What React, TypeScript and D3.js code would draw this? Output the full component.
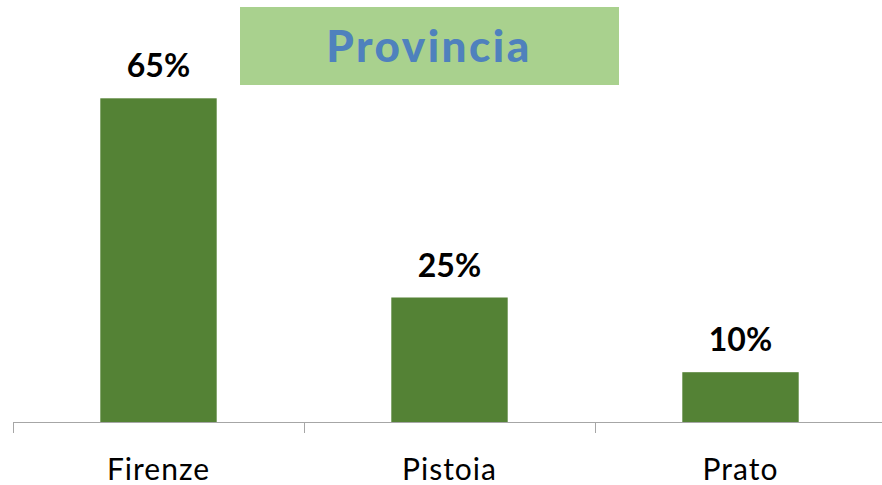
import React, { useRef, useEffect } from 'react';
import { select, scaleBand, scaleLinear } from 'd3';

const categories = ['Firenze', 'Pistoia', 'Prato'];
const values = [65, 25, 10];
const valueLabels = ['65%', '25%', '10%'];
const title = 'Provincia';

const W = 882;
const H = 485;

export default function App() {
  const svgRef = useRef<SVGSVGElement>(null);

  useEffect(() => {
    const svg = select(svgRef.current);
    svg.selectAll('*').remove();

    const baseY = 422;
    const x = scaleBand<string>()
      .domain(categories)
      .range([13, 886])
      .paddingInner(0.6)
      .paddingOuter(0.3);
    const y = scaleLinear().domain([0, 100]).range([baseY, baseY - 498]);

    svg.append('rect').attr('width', W).attr('height', H).attr('fill', '#fff');

    // title box
    svg.append('rect')
      .attr('x', 240).attr('y', 7).attr('width', 379).attr('height', 78)
      .attr('fill', '#a9d18e');
    svg.append('text')
      .attr('x', 429).attr('y', 62)
      .attr('text-anchor', 'middle')
      .attr('font-family', 'Lato, sans-serif')
      .attr('font-weight', 900)
      .attr('font-size', 44)
      .attr('letter-spacing', 2.5)
      .attr('fill', '#4f81bd')
      .text(title);

    // bars
    svg.selectAll('.bar')
      .data(values)
      .join('rect')
      .attr('class', 'bar')
      .attr('x', (d, i) => x(categories[i])!)
      .attr('y', d => y(d))
      .attr('width', x.bandwidth())
      .attr('height', d => baseY - y(d))
      .attr('fill', '#548235');

    svg.selectAll('.lbl')
      .data(values)
      .join('text')
      .attr('class', 'lbl')
      .attr('x', (d, i) => x(categories[i])! + x.bandwidth() / 2)
      .attr('y', d => y(d) - 21)
      .attr('text-anchor', 'middle')
      .attr('font-family', 'Lato, sans-serif')
      .attr('font-weight', 'bold')
      .attr('font-size', 32)
      .attr('fill', '#000')
      .text((d, i) => valueLabels[i]);

    // axis
    svg.append('line')
      .attr('x1', 13).attr('x2', W).attr('y1', baseY + 0.5).attr('y2', baseY + 0.5)
      .attr('stroke', '#a6a6a6').attr('stroke-width', 1);
    const step = x.step();
    const ticks = [0, 1, 2, 3].map(i => 13 + i * step);
    svg.selectAll('.tick')
      .data(ticks)
      .join('line')
      .attr('class', 'tick')
      .attr('x1', d => Math.round(d) + 0.5).attr('x2', d => Math.round(d) + 0.5)
      .attr('y1', baseY).attr('y2', baseY + 11)
      .attr('stroke', '#a6a6a6');

    svg.selectAll('.cat')
      .data(categories)
      .join('text')
      .attr('class', 'cat')
      .attr('x', d => x(d)! + x.bandwidth() / 2)
      .attr('y', 480)
      .attr('text-anchor', 'middle')
      .attr('font-family', 'Lato, sans-serif')
      .attr('font-size', 30)
      .attr('letter-spacing', 1)
      .attr('fill', '#000')
      .text(d => d);
  }, []);

  return (
    <svg ref={svgRef} width={W} height={H}
      style={{ position: 'absolute', left: 0, top: 0, display: 'block' }} />
  );
}
